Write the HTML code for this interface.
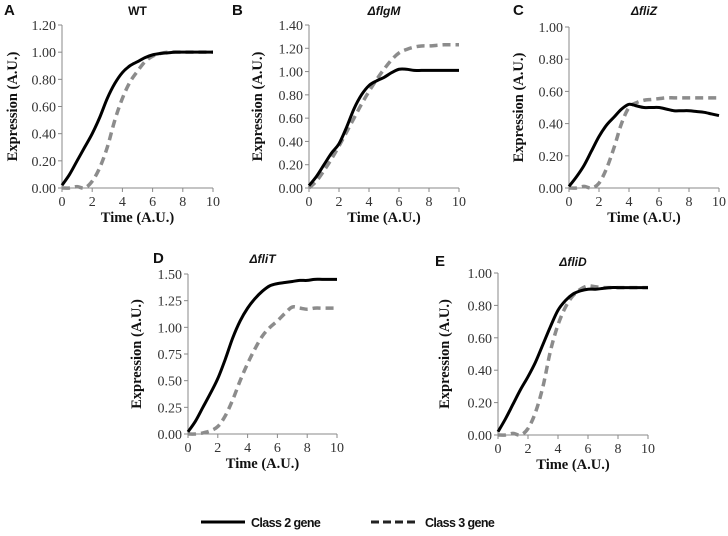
<!DOCTYPE html>
<html><head><meta charset="utf-8"><style>
body{margin:0;background:#fff;width:728px;height:536px;overflow:hidden}
svg{display:block}
.tk{font:14px "Liberation Serif",serif;fill:#333}
.at{font:bold 14.5px "Liberation Serif",serif;fill:#111}
.pt{font:bold italic 12px "Liberation Sans",sans-serif;fill:#111}
.pt0{font:bold 12px "Liberation Sans",sans-serif;fill:#111}
.pl{font:bold 15px "Liberation Sans",sans-serif;fill:#111}
.lg{font:bold 12.5px "Liberation Sans",sans-serif;fill:#111;letter-spacing:-0.6px}
</style></head><body>
<svg id="chart" width="728" height="536"></svg>
<script>
const times=[0,0.5,1,1.5,2,2.5,3,3.5,4,4.5,5,5.5,6,6.5,7,7.5,8,8.5,9,9.5,10];
const xTicks=[0,2,4,6,8,10];
const wtClass2=[0.02,0.1,0.2,0.3,0.4,0.52,0.66,0.77,0.85,0.9,0.93,0.96,0.98,0.99,0.995,1,1,1,1,1,1];
const wtClass3=[0,0,0.01,0,0.05,0.15,0.3,0.5,0.66,0.78,0.86,0.93,0.97,0.99,1,1,1,1,1,1,1];
const flgMClass2=[0.02,0.1,0.2,0.3,0.38,0.52,0.68,0.8,0.88,0.92,0.95,0.99,1.02,1.02,1.01,1.01,1.01,1.01,1.01,1.01,1.01];
const flgMClass3=[0,0.06,0.15,0.25,0.36,0.48,0.6,0.72,0.83,0.93,1.02,1.1,1.16,1.19,1.21,1.22,1.22,1.225,1.23,1.23,1.23];
const fliZClass2=[0.01,0.07,0.14,0.23,0.32,0.39,0.44,0.49,0.52,0.51,0.5,0.5,0.5,0.49,0.48,0.48,0.48,0.475,0.47,0.46,0.45];
const fliZClass3=[0,0,0.01,0,0.03,0.12,0.25,0.4,0.5,0.53,0.545,0.55,0.555,0.56,0.56,0.56,0.56,0.56,0.56,0.56,0.56];
const fliTClass2=[0.02,0.12,0.25,0.38,0.52,0.7,0.9,1.06,1.18,1.27,1.34,1.39,1.41,1.42,1.43,1.44,1.44,1.45,1.45,1.45,1.45];
const fliTClass3=[0,0,0.01,0.03,0.07,0.17,0.32,0.5,0.66,0.8,0.92,1.0,1.06,1.13,1.19,1.18,1.17,1.18,1.18,1.18,1.18];
const fliDClass2=[0.02,0.1,0.19,0.28,0.36,0.45,0.56,0.67,0.77,0.83,0.87,0.89,0.9,0.9,0.905,0.91,0.91,0.91,0.91,0.91,0.91];
const fliDClass3=[0,0,0.01,0,0.04,0.14,0.3,0.52,0.68,0.79,0.86,0.9,0.92,0.915,0.91,0.91,0.91,0.91,0.91,0.91,0.91];
const wtYTicks=["0.00","0.20","0.40","0.60","0.80","1.00","1.20"];
const flgMYTicks=["0.00","0.20","0.40","0.60","0.80","1.00","1.20","1.40"];
const fliZYTicks=["0.00","0.20","0.40","0.60","0.80","1.00"];
const fliTYTicks=["0.00","0.25","0.50","0.75","1.00","1.25","1.50"];
const fliDYTicks=["0.00","0.20","0.40","0.60","0.80","1.00"];

const NS="http://www.w3.org/2000/svg";
const svg=document.getElementById('chart');
function mk(tag,attrs,parent,text){const e=document.createElementNS(NS,tag);for(const k in attrs)e.setAttribute(k,attrs[k]);if(text!=null)e.textContent=text;(parent||svg).appendChild(e);return e;}
function smooth(pts){let d=`M${pts[0][0]},${pts[0][1]}`;for(let i=0;i<pts.length-1;i++){const p0=pts[Math.max(0,i-1)],p1=pts[i],p2=pts[i+1],p3=pts[Math.min(pts.length-1,i+2)];d+=` C${p1[0]+(p2[0]-p0[0])/6},${p1[1]+(p2[1]-p0[1])/6} ${p2[0]-(p3[0]-p1[0])/6},${p2[1]-(p3[1]-p1[1])/6} ${p2[0]},${p2[1]}`;}return d;}

function panel(id,letter,title,italic,x0,x1,y0,y1,yTicks,s2,s3,lx,ly,ytx){
  const g=mk('g',{});
  
  
  const ymax=parseFloat(yTicks[yTicks.length-1]);
  const sx=v=>x0+(x1-x0)*v/10, sy=v=>y0-(y0-y1)*v/ymax;
  const ax=mk('path',{d:`M${x0},${y1} L${x0},${y0} L${x1},${y0}`,stroke:'#888',fill:'none','stroke-width':1},g);
   
  yTicks.forEach(t=>{const y=sy(parseFloat(t));mk('line',{x1:x0-4,x2:x0,y1:y,y2:y,stroke:'#888'},g);
    const tl=mk('text',{x:x0-6,y:y+5,'text-anchor':'end',class:'tk'},g,t);
     });
  xTicks.forEach(t=>{const x=sx(t);mk('line',{x1:x,x2:x,y1:y0,y2:y0+4,stroke:'#888'},g);
    const tl=mk('text',{x:x,y:y0+18,'text-anchor':'middle',class:'tk'},g,t);
     });
  const xt=mk('text',{x:(x0+x1)/2,y:y0+34,'text-anchor':'middle',class:'at'},g,'Time (A.U.)');
   
  const yc=(y0+y1)/2;
  const yt=mk('text',{x:ytx,y:yc,'text-anchor':'middle',class:'at',transform:`rotate(-90 ${ytx} ${yc})`},g,'Expression (A.U.)');
   
  const pl=mk('text',{x:lx,y:ly,class:'pl'},g,letter);
   
  const pt=mk('text',{x:(x0+x1)/2,y:ly,'text-anchor':'middle',class:italic?'pt':'pt0'},g,title);
   
  const l3=mk('path',{d:smooth(times.map((t,i)=>[sx(t),sy(s3[i])])),stroke:'#8c8c8c','stroke-width':3.5,fill:'none','stroke-dasharray':'8 5'},g);
   
  const l2=mk('path',{d:smooth(times.map((t,i)=>[sx(t),sy(s2[i])])),stroke:'#000','stroke-width':3,fill:'none'},g);
   
}
panel('wt','A','WT',false,62,213,188,25,wtYTicks,wtClass2,wtClass3,4,15,17);
panel('flgm','B','ΔflgM',true,309,459,188,25,flgMYTicks,flgMClass2,flgMClass3,232,15,262);
panel('fliz','C','ΔfliZ',true,569,719,188,27,fliZYTicks,fliZClass2,fliZClass3,513,15,523);
panel('flit','D','ΔfliT',true,188,337,434,274,fliTYTicks,fliTClass2,fliTClass3,153,263,141);
panel('flid','E','ΔfliD',true,498,648,435,273,fliDYTicks,fliDClass2,fliDClass3,435,266,449);

const lg=mk('g',{});
 
const e1=mk('line',{x1:201,x2:245,y1:522,y2:522,stroke:'#000','stroke-width':3},lg);
 
const t1=mk('text',{x:251,y:527,class:'lg'},lg,'Class 2 gene');
 
const e2=mk('line',{x1:371,x2:416,y1:522,y2:522,stroke:'#222','stroke-width':3,'stroke-dasharray':'8 4'},lg);
 
const t2=mk('text',{x:425,y:527,class:'lg'},lg,'Class 3 gene');
 
</script>
</body></html>
